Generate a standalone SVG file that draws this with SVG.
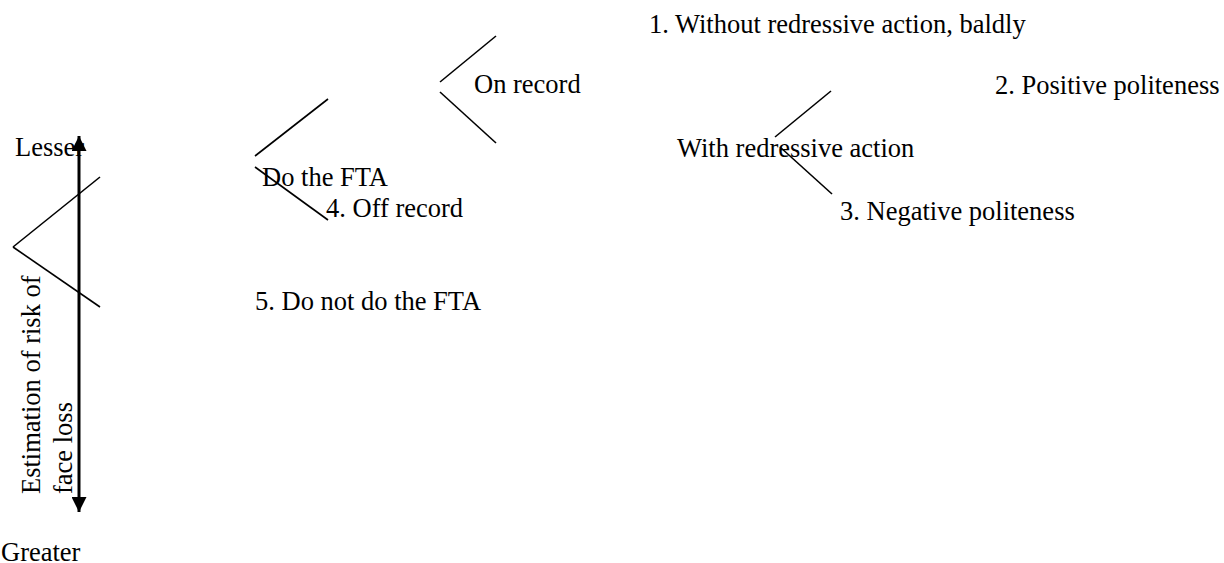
<svg xmlns="http://www.w3.org/2000/svg" width="1224" height="563" viewBox="0 0 1224 563">
<style>
text{font-family:"Liberation Serif","Times New Roman",serif;font-size:26.5px;fill:#000}
.br{stroke:#000;stroke-width:1.6;fill:none}
.axis{stroke:#000;stroke-width:3;fill:none}
</style>
<defs>
<marker id="ah" viewBox="0 0 10 10" refX="10" refY="5" markerWidth="5" markerHeight="5" markerUnits="strokeWidth" orient="auto">
<path d="M0,0 L10,5 L0,10 Z" fill="#000"/>
</marker>
</defs>
<rect width="1224" height="563" fill="#fff"/>
<g id="connectors">
<line class="br" x1="13" y1="247" x2="100" y2="177"/>
<line class="br" x1="13" y1="247" x2="100" y2="307"/>
<line class="br" x1="255" y1="156" x2="328" y2="99"/>
<line class="br" x1="255" y1="167" x2="328" y2="220"/>
<line class="br" x1="440" y1="82" x2="496" y2="36"/>
<line class="br" x1="440" y1="92" x2="496" y2="143"/>
<line class="br" x1="775" y1="137" x2="831" y2="91"/>
<line class="br" x1="780" y1="147" x2="832" y2="194"/>
</g>
<g id="axis">
<line class="axis" x1="79" y1="320" x2="79" y2="136" marker-end="url(#ah)"/>
<line class="axis" x1="79" y1="320" x2="79" y2="512" marker-end="url(#ah)"/>
<text x="15" y="156">Lesser</text>
<text x="1" y="561">Greater</text>
<text transform="translate(40,494) rotate(-90)">Estimation of risk of</text>
<text transform="translate(72,494) rotate(-90)">face loss</text>
</g>
<g id="do-fta"><text x="262" y="186">Do the FTA</text></g>
<g id="on-record"><text x="474" y="93">On record</text></g>
<g id="off-record"><text x="326" y="217">4. Off record</text></g>
<g id="not-do-fta"><text x="255" y="310">5. Do not do the FTA</text></g>
<g id="baldly"><text x="649" y="33">1. Without redressive action, baldly</text></g>
<g id="with-redress"><text x="677" y="157">With redressive action</text></g>
<g id="positive"><text x="995" y="94">2. Positive politeness</text></g>
<g id="negative"><text x="840" y="220">3. Negative politeness</text></g>
</svg>
